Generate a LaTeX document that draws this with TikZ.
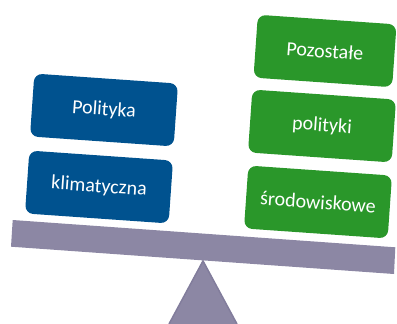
\documentclass[tikz,border=0pt]{standalone}
\usepackage{fontspec}
\setmainfont{Carlito}
\definecolor{plblue}{HTML}{00528F}
\definecolor{plgreen}{HTML}{2A972A}
\definecolor{beam}{HTML}{8C87A4}
\definecolor{beamdark}{HTML}{827D9C}
\begin{document}
\begin{tikzpicture}[x=1pt,y=-1pt,
    box/.style={rounded corners=8pt,minimum width=144pt,minimum height=63pt,inner sep=0pt,
      text=white,font=\fontsize{20}{24}\selectfont,rotate=-4},
    bluebox/.style={box,fill=plblue},
    greenbox/.style={box,fill=plgreen}]
          \useasboundingbox (0,0) rectangle (397,324);

          % fulcrum and beam
          \fill [beam] (203,260) -- (237,324) -- (169,324) -- cycle;
          \draw [beamdark,line width=1.5pt] (169,324) -- (203,261) -- (237,324);
          \fill [beam] (12.7,220) -- (395.3,247.3) -- (394,274) -- (11,246.7) -- cycle;

          \node [bluebox] (polityka) at (104,110) {Polityka};
          \node [bluebox] (klimatyczna) at (99,187) {klimatyczna};

          \node [greenbox,minimum width=139pt] (pozostale) at (325,51) {Pozostałe};
          \node [greenbox] (polityki) at (322,126) {polityki};
          \node [greenbox] (srodowiskowe) at (318,202) {środowiskowe};
        \end{tikzpicture}
\end{document}
